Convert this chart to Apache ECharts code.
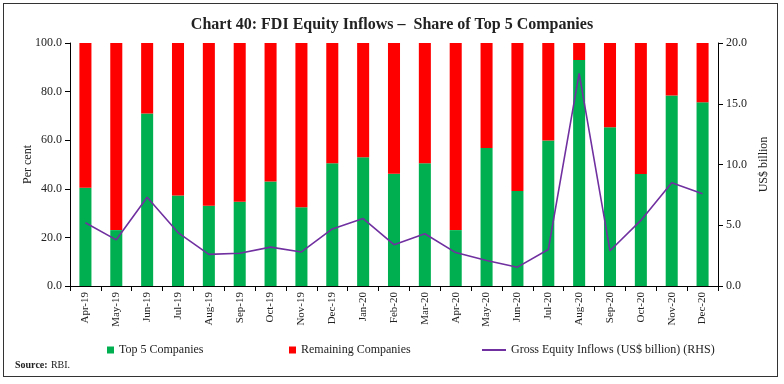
<!DOCTYPE html>
<html><head><meta charset="utf-8">
<script src="https://cdn.jsdelivr.net/npm/echarts@6/dist/echarts.min.js"></script>
<style>html,body{margin:0;padding:0;background:#fff}#c{width:784px;height:384px}
#frame{position:absolute;left:3px;top:3px;width:775px;height:374px;border:1px solid #333;box-sizing:border-box;pointer-events:none}</style>
</head><body><div id="c"></div><div id="frame"></div>
<script>
const categories = ['Apr-19','May-19','Jun-19','Jul-19','Aug-19','Sep-19','Oct-19','Nov-19','Dec-19','Jan-20','Feb-20','Mar-20','Apr-20','May-20','Jun-20','Jul-20','Aug-20','Sep-20','Oct-20','Nov-20','Dec-20'];
const top5 = [40.4,23.0,71.0,37.2,33.0,34.7,43.0,32.4,50.5,53.0,46.2,50.5,23.0,56.8,39.1,59.9,93.0,65.3,46.1,78.4,75.6];
const remaining = top5.map(v => +(100 - v).toFixed(1));
const grossInflows = [5.2,3.8,7.3,4.4,2.6,2.7,3.2,2.8,4.7,5.55,3.4,4.3,2.75,2.1,1.55,3.0,17.5,2.9,5.4,8.5,7.6];
const leftTicks = [0,20,40,60,80,100];
const rightTicks = [0,5,10,15,20];

const FONT = '"Liberation Serif","DejaVu Serif",serif';
const chart = echarts.init(document.getElementById('c'), null, {renderer:'canvas'});
chart.setOption({
  animation:false,
  textStyle:{fontFamily:FONT},
  title:{text:'Chart 40: FDI Equity Inflows –  Share of Top 5 Companies', left:'center', top:12,
    textStyle:{fontFamily:FONT, fontWeight:'bold', fontSize:16, color:'#222'}},
  grid:{left:70, right:66, top:43, bottom:98},
  legend:[
    {data:[{name:'Top 5 Companies', icon:'rect'}], left:102, top:339, itemWidth:7, itemHeight:7, itemGap:4, textStyle:{fontFamily:FONT,fontSize:12,color:'#222'}},
    {data:[{name:'Remaining Companies', icon:'rect'}], left:284, top:339, itemWidth:7, itemHeight:7, textStyle:{fontFamily:FONT,fontSize:12,color:'#222'}},
    {data:[{name:'Gross Equity Inflows (US$ billion) (RHS)', icon:'rect'}], left:477, top:339, itemWidth:24, itemHeight:2, textStyle:{fontFamily:FONT,fontSize:12,color:'#222'}}
  ],
  graphic:[{type:'text', left:15, top:359, style:{rich:{b:{fontWeight:'bold',fontFamily:FONT,fontSize:10,fill:'#222'},n:{fontFamily:FONT,fontSize:10,fill:'#222'}}, text:'{b|Source:} {n|RBI.}'}}],
  xAxis:{type:'category', data:categories, boundaryGap:true,
    axisLine:{lineStyle:{color:'#000'}},
    axisTick:{show:true, alignWithLabel:false, length:5, lineStyle:{color:'#000'}},
    axisLabel:{rotate:90, fontFamily:FONT, fontSize:11, color:'#222', margin:6}},
  yAxis:[
    {type:'value', min:0, max:100, interval:20, name:'Per cent', nameLocation:'middle', nameGap:36, nameRotate:90, nameMoveOverlap:false,
      nameTextStyle:{fontFamily:FONT,fontSize:12,color:'#222'},
      axisLine:{show:true,lineStyle:{color:'#000'}}, axisTick:{show:true,length:5,lineStyle:{color:'#000'}},
      splitLine:{show:false},
      axisLabel:{fontFamily:FONT,fontSize:12,color:'#222',margin:8, formatter:v=>v.toFixed(1)}},
    {type:'value', min:0, max:20, interval:5, name:'US$ billion', nameLocation:'middle', nameGap:40, nameRotate:90, nameMoveOverlap:false,
      nameTextStyle:{fontFamily:FONT,fontSize:12,color:'#222'},
      axisLine:{show:true,lineStyle:{color:'#000'}}, axisTick:{show:true,length:5,lineStyle:{color:'#000'}},
      splitLine:{show:false},
      axisLabel:{fontFamily:FONT,fontSize:12,color:'#222',margin:8, formatter:v=>v.toFixed(1)}}
  ],
  series:[
    {name:'Top 5 Companies', type:'bar', stack:'s', data:top5, barWidth:'39%', itemStyle:{color:'#00B050'}},
    {name:'Remaining Companies', type:'bar', stack:'s', data:remaining, barWidth:'39%', itemStyle:{color:'#FF0000'}},
    {name:'Gross Equity Inflows (US$ billion) (RHS)', type:'line', yAxisIndex:1, data:grossInflows, symbol:'none',
      lineStyle:{color:'#7030A0', width:1.6}, itemStyle:{color:'#7030A0'}}
  ]
});
</script></body></html>
